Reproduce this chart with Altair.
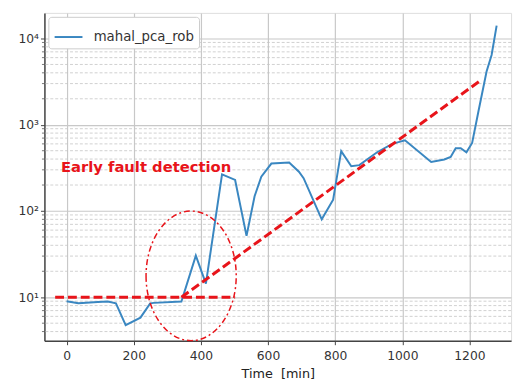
import altair as alt
import pandas as pd

# Blue series: mahal_pca_rob
time_min = [0, 35, 93, 123, 147, 176, 220, 249, 260, 342, 385, 415, 463, 502, 536,
            560, 580, 610, 663, 692, 706, 760, 794, 818, 848, 872, 925, 970, 1008,
            1086, 1125, 1144, 1159, 1174, 1191, 1208, 1227, 1251, 1266, 1281]
mahal = [9.0, 8.5, 8.8, 8.9, 8.5, 4.75, 5.8, 8.5, 8.6, 8.9, 30.4, 14.4, 266, 229, 51.5,
         148, 250, 355, 365, 285, 240, 80, 135, 495, 330, 340, 480, 600, 660,
         370, 395, 423, 535, 535, 480, 615, 1445, 4140, 6430, 14100]

# Red dashed annotation lines
flat_x = [-34, 502]
flat_y = [10, 10]
trend_x = [342, 1232]
trend_y = [10, 3240]

# Ellipse annotation center
ell_x = [371]
ell_y = [17.7]

# Annotation text
note_x = [-17]
note_y = [320]
note_text = ["Early fault detection"]

x_ticks = [0, 200, 400, 600, 800, 1000, 1200]
y_major = [10, 100, 1000, 10000]
y_minor = [4, 5, 6, 7, 8, 9, 20, 30, 40, 50, 60, 70, 80, 90,
           200, 300, 400, 500, 600, 700, 800, 900,
           2000, 3000, 4000, 5000, 6000, 7000, 8000, 9000]

X_DOM = [-66, 1324]
Y_DOM = [3.13, 19800]
BLUE = "#3a87c1"
RED = "#e8141a"
FONT = "DejaVu Sans"

xs = alt.Scale(domain=X_DOM, nice=False, zero=False)
ys = alt.Scale(type="log", domain=Y_DOM, nice=False)

df = pd.DataFrame({"t": time_min, "v": mahal, "series": ["mahal_pca_rob"] * len(time_min)})
minor_df = pd.DataFrame({"m": y_minor})

minor_grid = alt.Chart(minor_df).mark_rule(
    color="#c4c4c4", strokeDash=[3, 2], strokeWidth=0.8
).encode(y=alt.Y("m:Q", scale=ys))

minor_ticks = alt.Chart(minor_df).mark_rule(
    color="#555", strokeWidth=0.8
).encode(y=alt.Y("m:Q", scale=ys), x=alt.value(-2.5), x2=alt.value(0))

line = alt.Chart(df).mark_line(strokeWidth=2).encode(
    x=alt.X("t:Q", scale=xs, axis=alt.Axis(
        values=x_ticks, format="d", title="Time\u00a0 [min]", grid=True, gridColor="#c8c8c8",
        gridWidth=1.2, domainColor="#444", domainWidth=1.5, tickColor="#444",
        tickSize=4, labelFontSize=12.5, labelColor="#333", labelFont=FONT,
        titleFont=FONT, titleFontSize=13, titleFontWeight="normal",
        titleColor="#222", titlePadding=6, labelPadding=5)),
    y=alt.Y("v:Q", scale=ys, axis=alt.Axis(
        values=y_major, title=None, grid=True, gridColor="#c8c8c8",
        gridWidth=1.2, domainColor="#444", domainWidth=1.5, tickColor="#444",
        tickSize=4, labelFontSize=12.5, labelColor="#333", labelFont=FONT,
        labelExpr="datum.value == 10 ? '10¹' : datum.value == 100 ? '10²' : datum.value == 1000 ? '10³' : '10⁴'")),
    color=alt.Color("series:N", scale=alt.Scale(domain=["mahal_pca_rob"], range=[BLUE]),
                    legend=alt.Legend(title=None, orient="top-left", offset=4,
                                      padding=5, fillColor="white", strokeColor="#cccccc",
                                      cornerRadius=3, symbolType="stroke",
                                      symbolStrokeWidth=2, symbolSize=800, labelOffset=10,
                                      labelFontSize=13.5, labelFont=FONT,
                                      labelColor="#333")),
)

flat = alt.Chart(pd.DataFrame({"x": flat_x, "y": flat_y})).mark_line(
    color=RED, strokeWidth=3, strokeDash=[9, 4]
).encode(x=alt.X("x:Q", scale=xs), y=alt.Y("y:Q", scale=ys))

trend = alt.Chart(pd.DataFrame({"x": trend_x, "y": trend_y})).mark_line(
    color=RED, strokeWidth=3, strokeDash=[9, 4]
).encode(x=alt.X("x:Q", scale=xs), y=alt.Y("y:Q", scale=ys))

ellipse = alt.Chart(pd.DataFrame({"x": ell_x, "y": ell_y})).mark_point(
    shape="M -0.696 0 A 0.696 1 0 1 0 0.696 0 A 0.696 1 0 1 0 -0.696 0 Z",
    size=17318, filled=False, color=RED, strokeWidth=1.5, strokeDash=[6, 3, 2, 3],
    opacity=1
).encode(x=alt.X("x:Q", scale=xs), y=alt.Y("y:Q", scale=ys))

note = alt.Chart(pd.DataFrame({"x": note_x, "y": note_y, "t": note_text})).mark_text(
    align="left", baseline="middle", color=RED, fontSize=15, font=FONT, fontWeight="bold"
).encode(x=alt.X("x:Q", scale=xs), y=alt.Y("y:Q", scale=ys), text="t:N")

chart = alt.layer(minor_grid, minor_ticks, line, flat, trend, ellipse, note).properties(
    width=474, height=333,
    autosize=alt.AutoSizeParams(type="none"),
    padding={"left": 37, "top": 2, "right": 5, "bottom": 44},
).configure_view(stroke="#444", strokeWidth=1.5).configure(background="white")

chart.save("out.html", embed_options={"renderer": "svg", "actions": False})
